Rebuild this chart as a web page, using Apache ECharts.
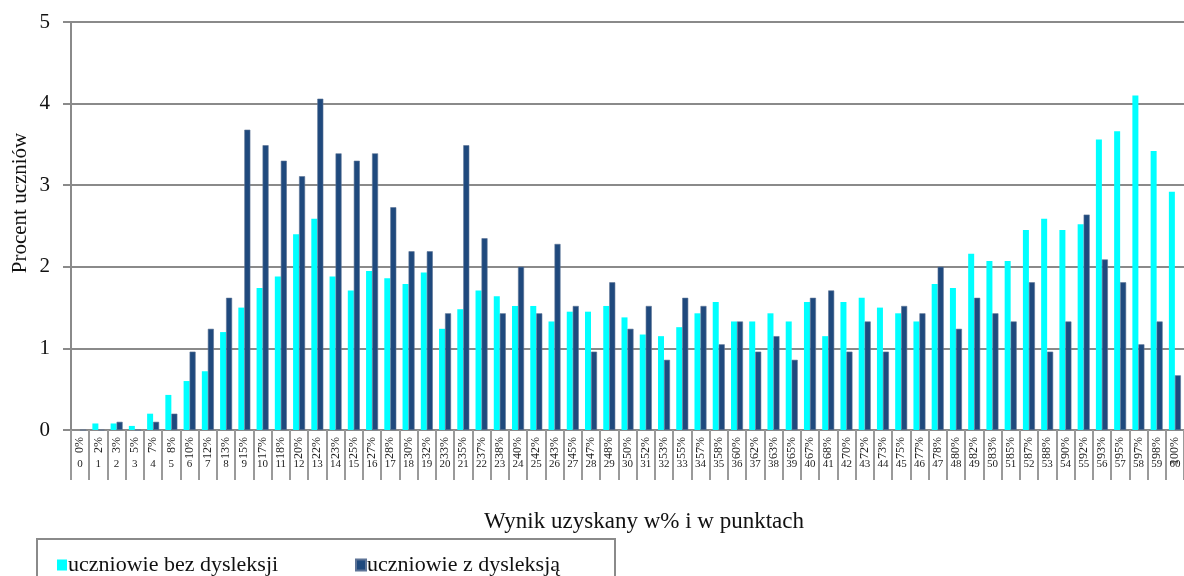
<!DOCTYPE html>
<html>
<head>
<meta charset="utf-8">
<script src="https://cdn.jsdelivr.net/npm/echarts@6/dist/echarts.min.js"></script>
<style>
html,body{margin:0;padding:0;background:#fff;}
#chart{width:1184px;height:576px;}
</style>
</head>
<body>
<div id="chart"></div>
<script>
const points = ['0','1','2','3','4','5','6','7','8','9','10','11','12','13','14','15','16','17','18','19','20','21','22','23','24','25','26','27','28','29','30','31','32','33','34','35','36','37','38','39','40','41','42','43','44','45','46','47','48','49','50','51','52','53','54','55','56','57','58','59','60'];
const percentLabels = ['0%','2%','3%','5%','7%','8%','10%','12%','13%','15%','17%','18%','20%','22%','23%','25%','27%','28%','30%','32%','33%','35%','37%','38%','40%','42%','43%','45%','47%','48%','50%','52%','53%','55%','57%','58%','60%','62%','63%','65%','67%','68%','70%','72%','73%','75%','77%','78%','80%','82%','83%','85%','87%','88%','90%','92%','93%','95%','97%','98%','100%'];
const bezDysleksji = [0,0.08,0.08,0.05,0.20,0.43,0.60,0.72,1.20,1.50,1.74,1.88,2.40,2.59,1.88,1.71,1.95,1.86,1.79,1.93,1.24,1.48,1.71,1.64,1.52,1.52,1.33,1.45,1.45,1.52,1.38,1.17,1.15,1.26,1.43,1.57,1.33,1.33,1.43,1.33,1.57,1.15,1.57,1.62,1.50,1.43,1.33,1.79,1.74,2.16,2.07,2.07,2.45,2.59,2.45,2.52,3.56,3.66,4.10,3.42,2.92];
const zDysleksja = [0,0,0.10,0,0.10,0.20,0.96,1.24,1.62,3.68,3.49,3.30,3.11,4.06,3.39,3.30,3.39,2.73,2.19,2.19,1.43,3.49,2.35,1.43,2.00,1.43,2.28,1.52,0.96,1.81,1.24,1.52,0.86,1.62,1.52,1.05,1.33,0.96,1.15,0.86,1.62,1.71,0.96,1.33,0.96,1.52,1.43,2.00,1.24,1.62,1.43,1.33,1.81,0.96,1.33,2.64,2.09,1.81,1.05,1.33,0.67];
const seriesNames = ['uczniowie bez dysleksji','uczniowie z dysleksją'];
const yTicks = [0,1,2,3,4,5];

const FONT = '"Liberation Serif","Times New Roman",serif';
const chart = echarts.init(document.getElementById('chart'), null, {renderer:'canvas'});
chart.setOption({
  animation:false,
  backgroundColor:'#fff',
  grid:{left:71,right:-6,top:22,bottom:146,containLabel:false},
  legend:[
    {data:[seriesNames[0]],left:52,top:549,itemWidth:10,itemHeight:11,icon:'rect',itemGap:0,
     textStyle:{fontFamily:FONT,fontSize:22,color:'#111',padding:[0,0,0,-4]}},
    {data:[seriesNames[1]],left:350,top:549,itemWidth:10,itemHeight:11,icon:'rect',itemGap:0,
     textStyle:{fontFamily:FONT,fontSize:22,color:'#111',padding:[0,0,0,-4]}}
  ],
  xAxis:[
    {type:'category',data:points,position:'bottom',
     axisLine:{show:true,lineStyle:{color:'#8a8a8a',width:2}},
     axisTick:{show:true,length:50,interval:0,lineStyle:{color:'#9a9a9a',width:2}},
     axisLabel:{interval:0,rotate:90,margin:7,fontFamily:FONT,fontSize:12,color:'#222',
       formatter:(v,i)=>percentLabels[i]}},
    {type:'category',data:points,position:'bottom',gridIndex:0,
     axisLine:{show:false},axisTick:{show:false},splitLine:{show:false},
     axisLabel:{interval:0,margin:29,fontFamily:FONT,fontSize:11,color:'#222'}}
  ],
  yAxis:{type:'value',min:yTicks[0],max:yTicks[yTicks.length-1],interval:1,
    axisLine:{show:true,lineStyle:{color:'#8a8a8a',width:2}},
    axisTick:{show:true,inside:false,length:8,lineStyle:{color:'#8a8a8a',width:2}},
    splitLine:{show:true,lineStyle:{color:'#8a8a8a',width:2}},
    axisLabel:{margin:21,fontFamily:FONT,fontSize:21,color:'#111'}},
  graphic:[
    {type:'text',x:20,y:203,rotation:Math.PI/2,
     style:{text:'Procent uczniów',font:'21px '+FONT,fill:'#111',textAlign:'center',textVerticalAlign:'middle'}},
    {type:'text',x:644,y:522,
     style:{text:'Wynik uzyskany w% i w punktach',font:'23px '+FONT,fill:'#111',textAlign:'center',textVerticalAlign:'middle'}},
    {type:'rect',shape:{x:37,y:539,width:578,height:60},
     style:{fill:'none',stroke:'#8a8a8a',lineWidth:2},z:-1}
  ],
  series:[
    {name:seriesNames[0],type:'bar',data:bezDysleksji,barWidth:6,barGap:'0%',
     itemStyle:{color:'#00FFFF'}},
    {name:seriesNames[1],type:'bar',data:zDysleksja,barWidth:6,barGap:'0%',
     itemStyle:{color:'#1F497D',borderColor:'#5d7396',borderWidth:0.6}}
  ]
});
</script>
</body>
</html>
